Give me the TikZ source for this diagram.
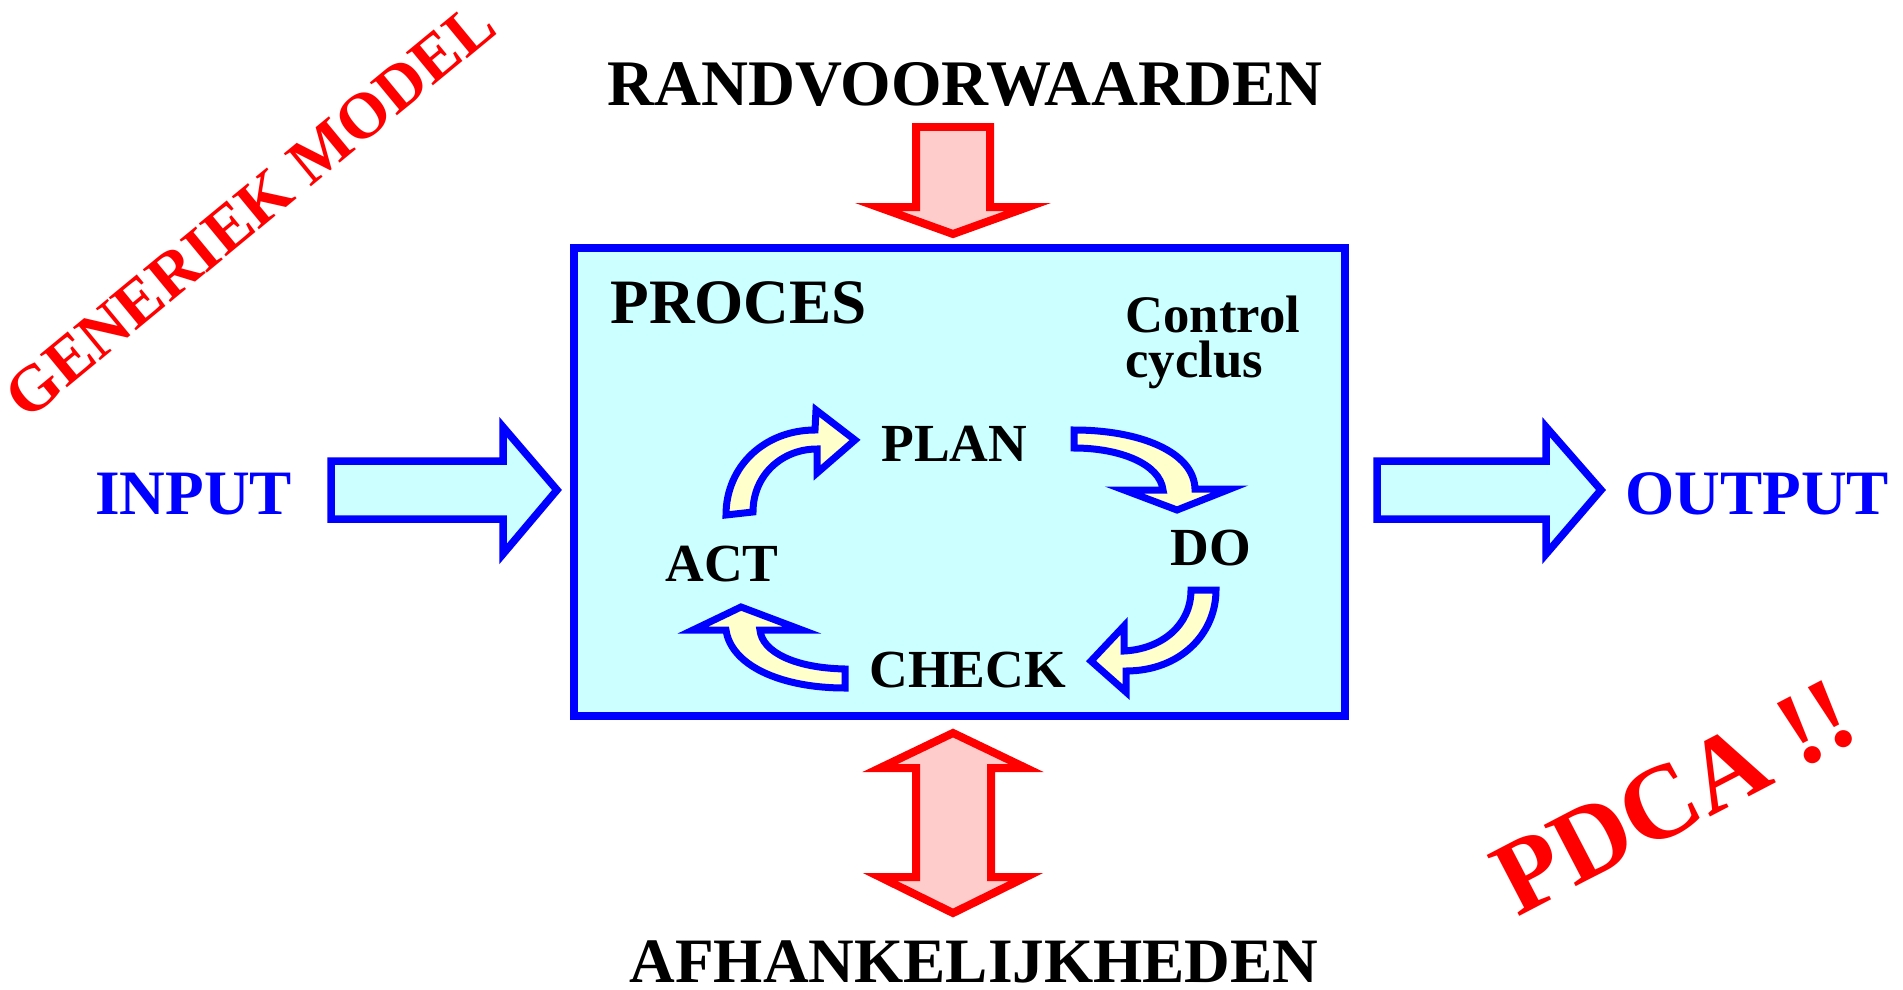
\documentclass[tikz,border=0pt]{standalone}
\usepackage{fontspec}
\setmainfont{Liberation Serif}
\definecolor{boxfill}{RGB}{204,255,255}
\definecolor{redfill}{RGB}{255,204,204}
\definecolor{yelfill}{RGB}{255,255,204}
\begin{document}
\begin{tikzpicture}[x=0.02cm,y=-0.02cm,line join=miter,
  big/.style={font=\fontsize{36}{40}\selectfont\bfseries,inner sep=0pt},
  title/.style={font=\fontsize{37}{40}\selectfont\bfseries,inner sep=0pt},
  mid/.style={font=\fontsize{30}{36}\selectfont\bfseries,inner sep=0pt},
  pdcalabel/.style={font=\fontsize{30.5}{36}\selectfont\bfseries,inner sep=0pt},
  blockarrow/.style={draw=blue,fill=boxfill,line width=0.15cm},
  redarrow/.style={draw=red,fill=redfill,line width=0.16cm},
  cyclearrow/.style={draw=blue,fill=yelfill,line width=0.14cm},
  procbox/.style={draw=blue,fill=boxfill,line width=0.16cm}]
\useasboundingbox (0,0) rectangle (1903,990);

% process box
\draw[procbox] (574,248) rectangle (1345,716);

% top red arrow
\draw[redarrow] (916,127) -- (990,127) -- (990,207) -- (1028,207) -- (953,234)
  -- (878,207) -- (916,207) -- cycle;

% bottom double red arrow
\draw[redarrow] (953,733) -- (1026,768) -- (991,768) -- (991,877) -- (1026,877)
  -- (953,913) -- (880,877) -- (916,877) -- (916,768) -- (880,768) -- cycle;

% input / output arrows
\draw[blockarrow] (331,461) -- (503,461) -- (503,427) -- (557,490) -- (503,554)
  -- (503,519) -- (331,519) -- cycle;
\draw[blockarrow] (1377,461) -- (1546,461) -- (1546,427) -- (1601,490) -- (1546,554)
  -- (1546,519) -- (1377,519) -- cycle;

% cycle arrows
\draw[cyclearrow] (726,515) .. controls (726,466) and (765,430) .. (815,430)
  -- (816,410) -- (855,440) -- (817,473) -- (817,449)
  .. controls (782,449) and (753,475) .. (753,512) -- cycle;
\draw[cyclearrow] (1074,430) .. controls (1140,430) and (1194,452) .. (1195,489)
  -- (1230,489) -- (1177,510) -- (1124,490) -- (1163,490)
  .. controls (1160,464) and (1120,448) .. (1074,448) -- cycle;
\draw[cyclearrow] (1191,590) .. controls (1191,625) and (1162,649) .. (1124,651)
  -- (1124,626) -- (1091,661) -- (1126,692) -- (1126,671)
  .. controls (1180,671) and (1216,634) .. (1216,590) -- cycle;
\draw[cyclearrow] (845,669) .. controls (795,668) and (762,652) .. (760,630)
  -- (802,630) -- (741,607) -- (693,630) -- (726,630)
  .. controls (731,665) and (780,688) .. (845,688) -- cycle;

% texts
\node[title,anchor=base] (rand) at (965,106) {RANDVOORWAARDEN};
\node[big,anchor=base] (afh) at (974,982) {AFHANKELIJKHEDEN};
\node[big,anchor=base west,text=blue] (input) at (95,514) {INPUT};
\node[big,anchor=base west,text=blue] (output) at (1625,514) {OUTPUT};
\node[big,anchor=base west] (proces) at (610,323) {PROCES};
\node[mid,anchor=base west] (control) at (1125,332) {Control};
\node[mid,anchor=base west] (cyclus) at (1125,377) {cyclus};
\node[pdcalabel,anchor=base west] (plan) at (881,461) {PLAN};
\node[pdcalabel,anchor=base west] (do) at (1170,565) {DO};
\node[pdcalabel,anchor=base east] (act) at (779,581) {ACT};
\node[pdcalabel,anchor=base west] (check) at (869,687) {CHECK};

\node[font=\fontsize{37}{40}\selectfont\bfseries,text=red,inner sep=0pt,rotate=39.5]
  (generiek) at (250,210) {GENERIEK MODEL};
\node[font=\fontsize{60}{66}\selectfont\bfseries,text=red,inner sep=0pt,rotate=27.5]
  (pdca) at (1674,797) {PDCA !!};
\end{tikzpicture}
\end{document}
